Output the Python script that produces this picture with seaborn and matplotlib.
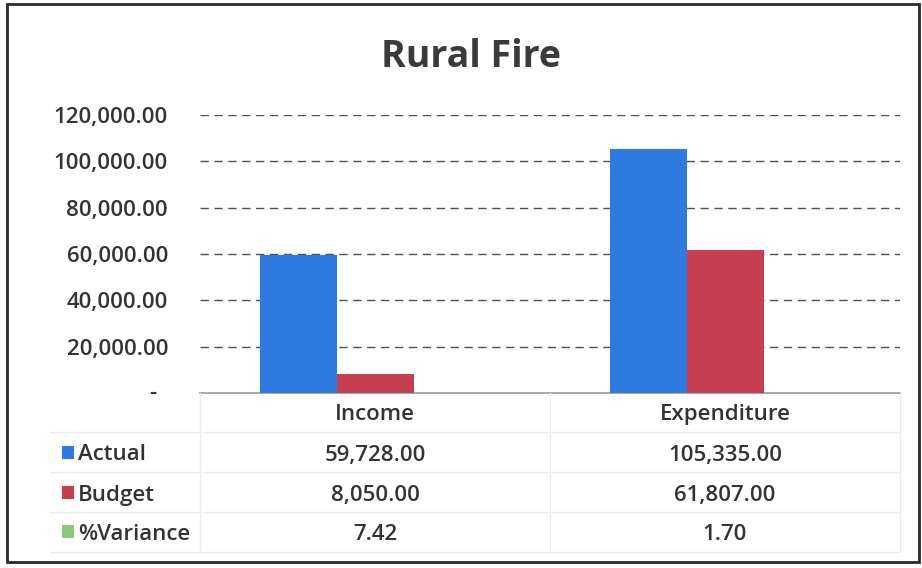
import matplotlib
matplotlib.use("Agg")
import matplotlib.pyplot as plt
import matplotlib.transforms as mtransforms
from matplotlib.patches import Rectangle
import seaborn as sns
import pandas as pd

categories = ["Income", "Expenditure"]
series_names = ["Actual", "Budget", "%Variance"]
actual = [59728.00, 105335.00]
budget = [8050.00, 61807.00]
variance = [7.42, 1.70]
yticks = [0, 20000, 40000, 60000, 80000, 100000, 120000]
ytick_labels = ["", "20,000.00", "40,000.00", "60,000.00", "80,000.00", "100,000.00", "120,000.00"]
table_text = {
    "Actual": ["59,728.00", "105,335.00"],
    "Budget": ["8,050.00", "61,807.00"],
    "%Variance": ["7.42", "1.70"],
}
colors = ["#2f7ae0", "#c63f50", "#8ec77e"]

rows = []
for s, vals in zip(series_names, [actual, budget, variance]):
    for c, v in zip(categories, vals):
        rows.append({"Category": c, "Series": s, "Value": v})
df = pd.DataFrame(rows)

sns.set_theme(style="white")
plt.rcParams["font.family"] = ["Open Sans", "DejaVu Sans"]

W, H = 922, 568
fig = plt.figure(figsize=(W / 100, H / 100), dpi=100)
fig.patch.set_facecolor("white")

def fx(px):
    return px / W

def fy(py):
    return 1 - py / H

FS = 16
FW = "semibold"
txtc = "#333333"

ax = fig.add_axes([fx(200), fy(393), fx(900) - fx(200), fy(115) - fy(393)])
sns.barplot(data=df, x="Category", y="Value", hue="Series", order=categories,
            hue_order=series_names, palette=colors, saturation=1, width=0.66,
            legend=False, ax=ax, zorder=3, linewidth=0)
ax.set_xlim(-0.5, 1.5)
ax.set_ylim(0, 120000)
ax.set_yticks(yticks)
ax.set_yticklabels(ytick_labels)
ax.set_xlabel("")
ax.set_ylabel("")
ax.tick_params(axis="y", length=0, pad=23, labelsize=FS, labelcolor=txtc)
ax.tick_params(axis="x", length=0, pad=8, labelsize=FS, labelcolor=txtc)
for lab in ax.get_xticklabels() + ax.get_yticklabels():
    lab.set_fontweight(FW)
for sp in ["left", "right", "top"]:
    ax.spines[sp].set_visible(False)
ax.spines["bottom"].set_color("#9a9a9a")
ax.spines["bottom"].set_linewidth(1.2)
for t in yticks[1:]:
    ax.axhline(t, color="#505050", lw=1.0, ls=(0, (6, 4)), zorder=1)

# zero label shown as dash (accounting format)
ax.text(fx(153), 0, "-", transform=mtransforms.blended_transform_factory(fig.transFigure, ax.transData),
        ha="center", va="center", fontsize=FS, fontweight=FW, color=txtc)

# data table
trans = mtransforms.blended_transform_factory(ax.transData, fig.transFigure)
row_y = [455, 495, 534]
for s, col, py in zip(series_names, colors, row_y):
    fig.patches.append(Rectangle((fx(62), fy(py + 4)), fx(12), 13 / H, transform=fig.transFigure,
                                 facecolor=col, edgecolor="none"))
    fig.text(fx(78), fy(py), s, ha="left", va="center", fontsize=FS, fontweight=FW, color=txtc)
    for i, t in enumerate(table_text[s]):
        ax.text(i, fy(py), t, transform=trans, ha="center", va="center", fontsize=FS,
                fontweight=FW, color=txtc, clip_on=False)

# faint table grid
lc = "#ececec"
for py in [432, 472, 512, 552]:
    fig.add_artist(plt.Line2D([fx(50), fx(900)], [fy(py), fy(py)], transform=fig.transFigure,
                              color=lc, lw=1))
for px in [200, 550, 900]:
    fig.add_artist(plt.Line2D([fx(px), fx(px)], [fy(393), fy(552)], transform=fig.transFigure,
                              color=lc, lw=1))

fig.text(fx(471), fy(57), "Rural Fire", ha="center", va="center", fontsize=27,
         fontweight="bold", color="#3a3a3a")

fig.add_artist(Rectangle((fx(7), fy(562)), fx(912), (562 - 4) / H, transform=fig.transFigure,
                         facecolor="none", edgecolor="#2a2a2a", lw=2))

fig.savefig("out.png", dpi=100)
